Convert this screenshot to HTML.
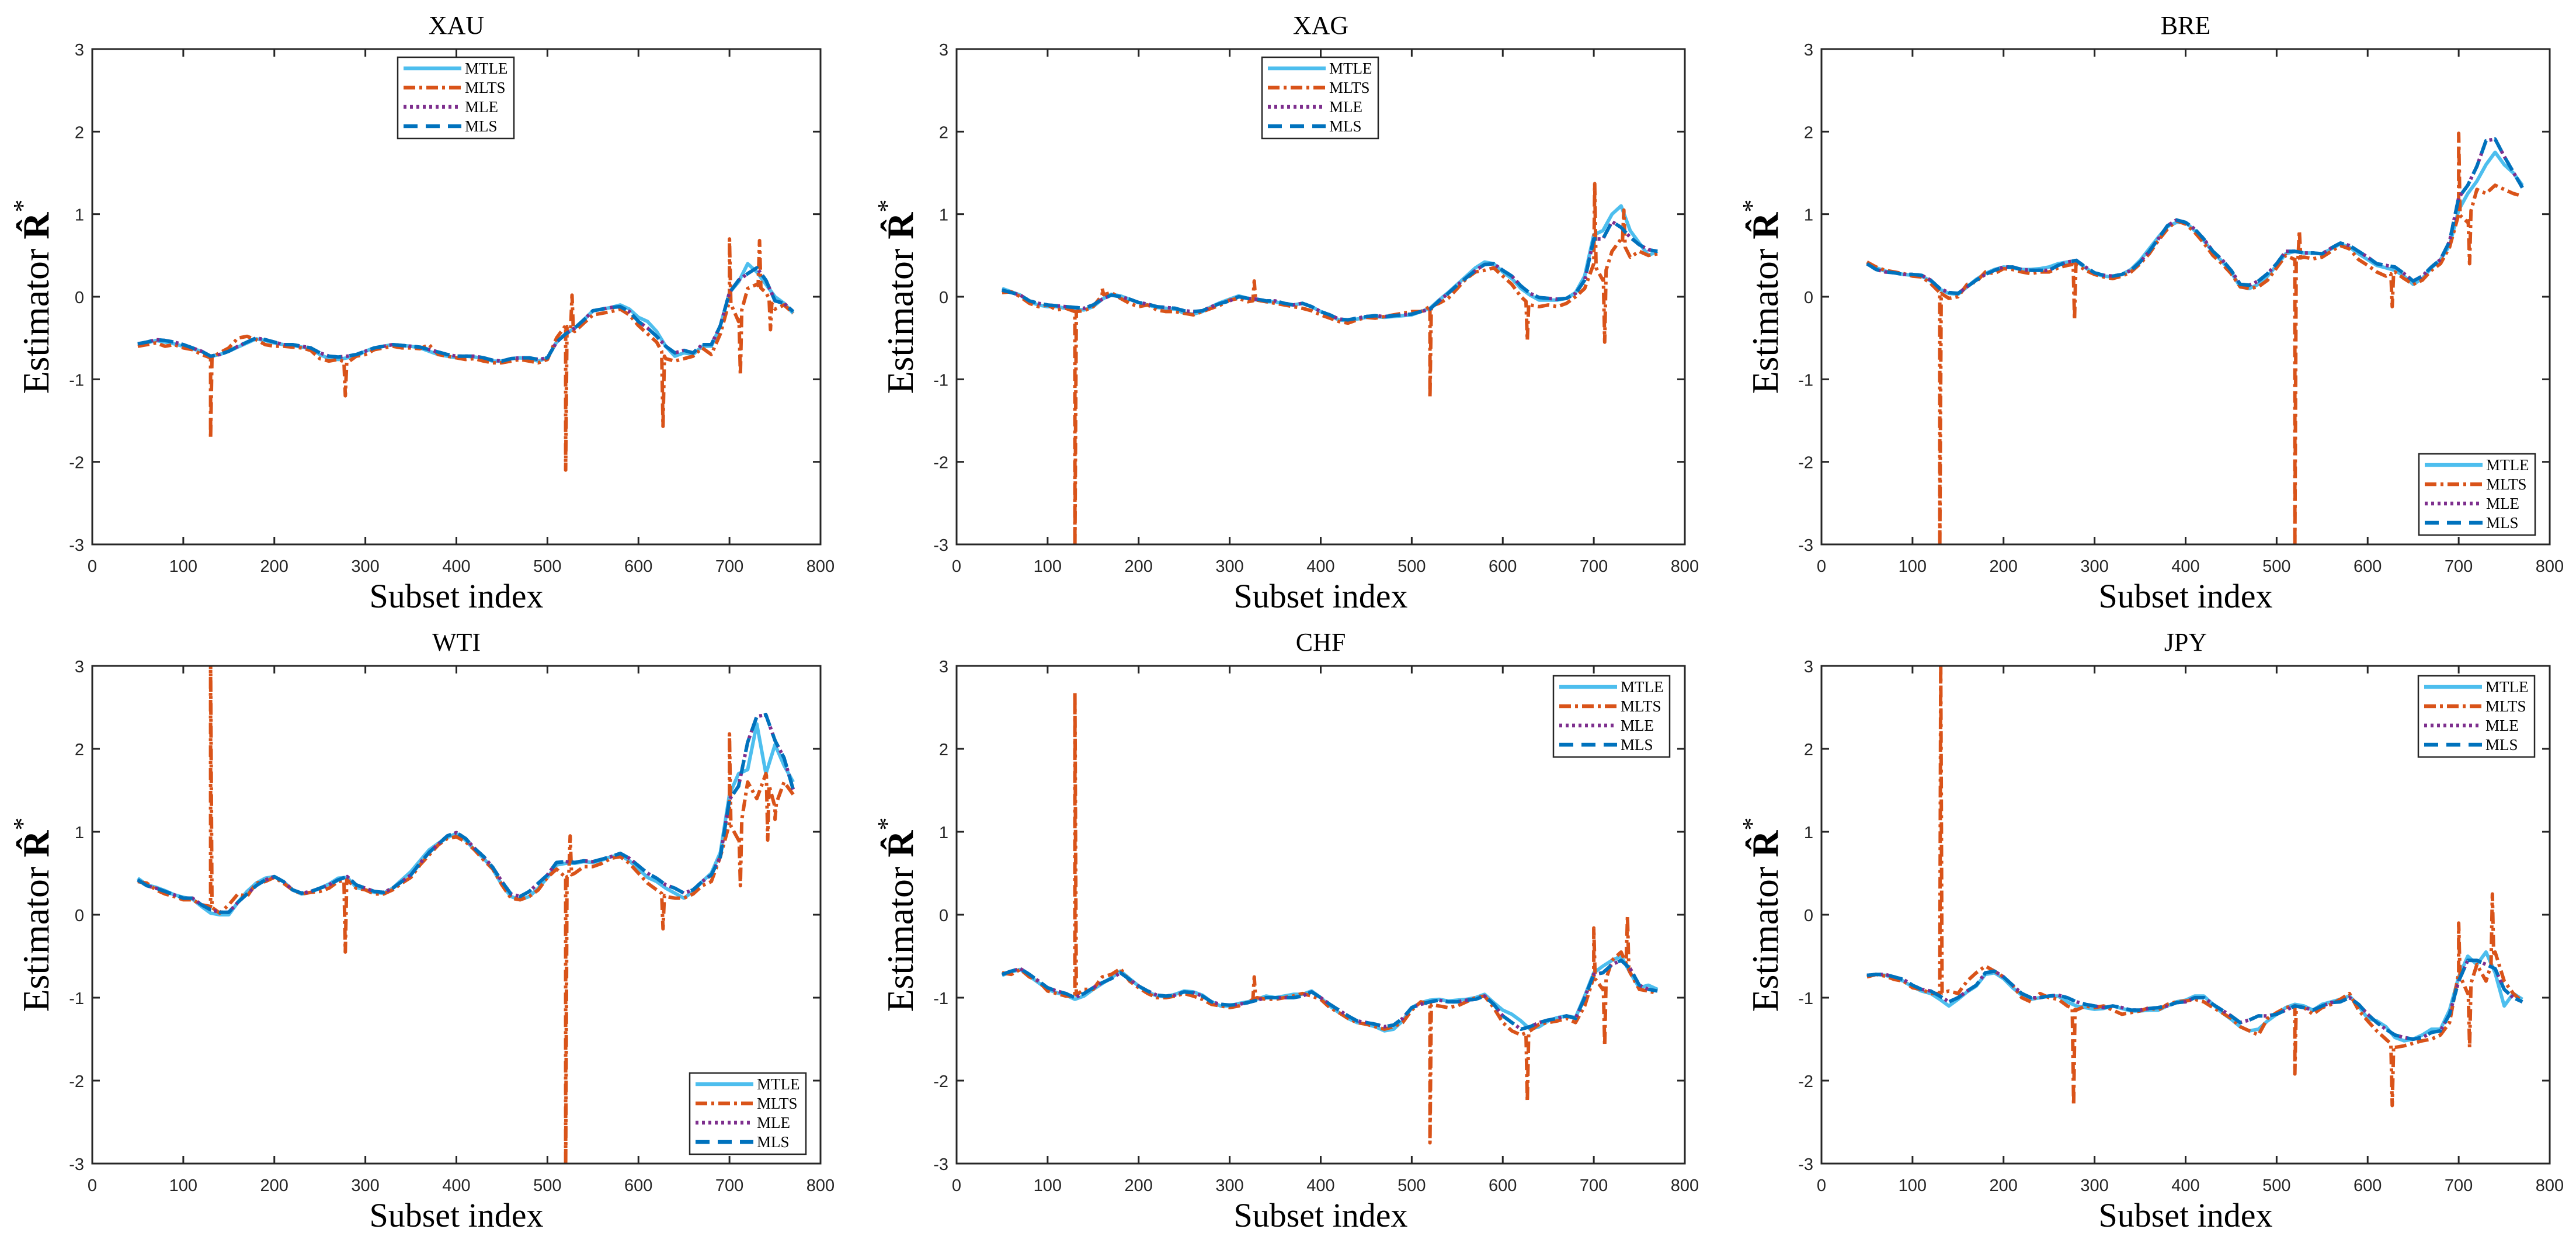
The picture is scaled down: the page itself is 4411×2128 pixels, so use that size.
<!DOCTYPE html>
<html><head><meta charset="utf-8">
<style>
html,body{margin:0;padding:0;background:#fff;}
svg{display:block;}
</style></head>
<body>
<svg id="fig" width="4411" height="2128" viewBox="0 0 4411 2128" xmlns="http://www.w3.org/2000/svg"></svg>
<script>
const subsetIdx = [50,60,70,80,90,100,110,120,130,140,150,160,170,180,190,200,210,220,230,240,250,260,270,280,290,300,310,320,330,340,350,360,370,380,390,400,410,420,430,440,450,460,470,480,490,500,510,520,530,540,550,560,570,580,590,600,610,620,630,640,650,660,670,680,690,700,710,720,730,740,750,760,770];
const xTicks = [0,100,200,300,400,500,600,700,800];
const yTicks = [-3,-2,-1,0,1,2,3];
const seriesNames = ["MTLE","MLTS","MLE","MLS"];

// XAU
const xauMLS = [-0.57,-0.55,-0.52,-0.53,-0.55,-0.58,-0.62,-0.66,-0.72,-0.70,-0.66,-0.60,-0.55,-0.50,-0.52,-0.55,-0.58,-0.58,-0.60,-0.62,-0.68,-0.72,-0.73,-0.72,-0.70,-0.66,-0.62,-0.60,-0.58,-0.59,-0.60,-0.61,-0.64,-0.67,-0.70,-0.72,-0.72,-0.72,-0.74,-0.77,-0.78,-0.75,-0.74,-0.74,-0.76,-0.74,-0.55,-0.45,-0.38,-0.28,-0.17,-0.15,-0.13,-0.12,-0.18,-0.30,-0.38,-0.48,-0.60,-0.68,-0.65,-0.68,-0.58,-0.58,-0.35,0.05,0.20,0.28,0.35,0.20,-0.05,-0.08,-0.18];
const xauMLE = [-0.57,-0.55,-0.52,-0.53,-0.55,-0.58,-0.62,-0.66,-0.72,-0.70,-0.66,-0.60,-0.55,-0.50,-0.52,-0.55,-0.58,-0.58,-0.60,-0.62,-0.68,-0.72,-0.73,-0.72,-0.70,-0.66,-0.62,-0.60,-0.58,-0.59,-0.60,-0.61,-0.64,-0.67,-0.70,-0.72,-0.72,-0.72,-0.74,-0.77,-0.78,-0.75,-0.74,-0.74,-0.76,-0.74,-0.55,-0.45,-0.38,-0.28,-0.17,-0.15,-0.13,-0.12,-0.18,-0.30,-0.38,-0.48,-0.60,-0.68,-0.65,-0.68,-0.58,-0.58,-0.35,0.05,0.20,0.28,0.35,0.20,-0.05,-0.08,-0.18];
const xauMTLE = [-0.58,-0.56,-0.53,-0.55,-0.57,-0.60,-0.63,-0.66,-0.72,-0.70,-0.66,-0.61,-0.56,-0.51,-0.53,-0.56,-0.58,-0.59,-0.61,-0.63,-0.70,-0.75,-0.76,-0.74,-0.72,-0.66,-0.62,-0.60,-0.58,-0.59,-0.60,-0.62,-0.66,-0.70,-0.72,-0.74,-0.72,-0.73,-0.75,-0.78,-0.78,-0.75,-0.74,-0.75,-0.78,-0.74,-0.55,-0.45,-0.38,-0.28,-0.17,-0.15,-0.13,-0.10,-0.15,-0.25,-0.30,-0.42,-0.60,-0.72,-0.68,-0.70,-0.60,-0.60,-0.35,0.05,0.18,0.40,0.30,0.15,0.00,-0.08,-0.20];
const xauMLTS = [-0.60,-0.58,-0.56,-0.60,-0.58,-0.62,-0.64,-0.70,-0.74,-0.68,-0.62,-0.50,-0.48,-0.52,-0.58,-0.60,-0.60,-0.61,-0.62,-0.65,-0.75,-0.78,-0.76,-0.80,-0.72,-0.70,-0.64,-0.62,-0.60,-0.62,-0.62,-0.63,-0.58,-0.70,-0.72,-0.74,-0.76,-0.75,-0.78,-0.80,-0.80,-0.78,-0.76,-0.78,-0.80,-0.76,-0.50,-0.35,-0.42,-0.32,-0.22,-0.20,-0.18,-0.15,-0.22,-0.35,-0.45,-0.55,-0.75,-0.78,-0.75,-0.72,-0.62,-0.70,-0.45,-0.05,-0.30,0.10,0.15,0.05,-0.15,-0.10,-0.20];
const xauSpikeX = [130,278,520,527,627,700,712,733,745];
const xauSpikeY = [-1.72,-1.20,-2.10,0.02,-1.57,0.70,-0.95,0.68,-0.40];

// XAG
const xagMLS = [0.08,0.05,0.02,-0.05,-0.08,-0.10,-0.11,-0.12,-0.13,-0.14,-0.10,-0.03,0.02,0.00,-0.03,-0.07,-0.09,-0.12,-0.13,-0.14,-0.17,-0.18,-0.17,-0.12,-0.08,-0.05,0.00,-0.02,-0.03,-0.05,-0.05,-0.08,-0.10,-0.08,-0.12,-0.18,-0.22,-0.27,-0.28,-0.26,-0.24,-0.23,-0.24,-0.23,-0.22,-0.21,-0.18,-0.15,-0.05,0.04,0.14,0.23,0.32,0.39,0.40,0.32,0.25,0.13,0.04,-0.01,-0.02,-0.03,-0.02,0.04,0.20,0.70,0.70,0.91,0.84,0.72,0.63,0.57,0.55];
const xagMLE = [0.08,0.05,0.02,-0.05,-0.08,-0.10,-0.11,-0.12,-0.13,-0.14,-0.10,-0.03,0.02,0.00,-0.03,-0.07,-0.09,-0.12,-0.13,-0.14,-0.17,-0.18,-0.17,-0.12,-0.08,-0.05,0.00,-0.02,-0.03,-0.05,-0.05,-0.08,-0.10,-0.08,-0.12,-0.18,-0.22,-0.27,-0.28,-0.26,-0.24,-0.23,-0.24,-0.23,-0.22,-0.21,-0.18,-0.15,-0.05,0.04,0.14,0.23,0.32,0.39,0.40,0.32,0.25,0.13,0.04,-0.01,-0.02,-0.03,-0.02,0.04,0.20,0.70,0.70,0.91,0.84,0.72,0.63,0.57,0.55];
const xagMTLE = [0.10,0.06,0.02,-0.06,-0.10,-0.12,-0.12,-0.14,-0.15,-0.16,-0.12,-0.03,0.03,0.01,-0.03,-0.07,-0.10,-0.13,-0.14,-0.15,-0.20,-0.21,-0.18,-0.12,-0.07,-0.03,0.01,-0.02,-0.04,-0.06,-0.06,-0.09,-0.10,-0.08,-0.12,-0.18,-0.23,-0.28,-0.29,-0.27,-0.25,-0.24,-0.25,-0.24,-0.23,-0.22,-0.18,-0.14,-0.04,0.05,0.15,0.25,0.35,0.42,0.40,0.30,0.22,0.10,0.02,-0.04,-0.04,-0.04,-0.02,0.05,0.25,0.75,0.80,1.00,1.10,0.80,0.65,0.50,0.55];
const xagMLTS = [0.05,0.06,0.00,-0.08,-0.12,-0.10,-0.16,-0.14,-0.18,-0.17,-0.12,0.02,0.05,-0.02,-0.08,-0.12,-0.10,-0.16,-0.18,-0.18,-0.20,-0.22,-0.18,-0.14,-0.10,-0.04,-0.02,-0.06,-0.04,-0.06,-0.08,-0.10,-0.12,-0.14,-0.17,-0.22,-0.26,-0.30,-0.32,-0.28,-0.25,-0.26,-0.24,-0.22,-0.20,-0.18,-0.18,-0.12,-0.08,-0.02,0.10,0.22,0.30,0.32,0.35,0.25,0.15,0.00,-0.10,-0.12,-0.10,-0.12,-0.08,0.00,0.10,0.40,0.20,0.55,0.70,0.48,0.55,0.50,0.52];
const xagSpikeX = [130,160,327,520,627,701,712,733];
const xagSpikeY = [-3.05,0.10,0.19,-1.22,-0.53,1.37,-0.55,1.05];

// BRE
const breMLS = [0.40,0.33,0.30,0.29,0.27,0.27,0.26,0.20,0.10,0.05,0.04,0.12,0.20,0.27,0.32,0.36,0.36,0.33,0.32,0.32,0.32,0.38,0.42,0.44,0.36,0.29,0.26,0.25,0.27,0.32,0.42,0.55,0.70,0.86,0.93,0.90,0.82,0.70,0.55,0.45,0.32,0.15,0.14,0.19,0.28,0.40,0.55,0.55,0.53,0.53,0.52,0.59,0.65,0.62,0.55,0.48,0.40,0.38,0.36,0.28,0.19,0.25,0.36,0.45,0.67,1.20,1.35,1.58,1.89,1.91,1.70,1.51,1.32];
const breMLE = [0.40,0.33,0.30,0.29,0.27,0.27,0.26,0.20,0.10,0.05,0.04,0.12,0.20,0.27,0.32,0.36,0.36,0.33,0.32,0.32,0.32,0.38,0.42,0.44,0.36,0.29,0.26,0.25,0.27,0.32,0.42,0.55,0.70,0.86,0.93,0.90,0.82,0.70,0.55,0.45,0.32,0.15,0.14,0.19,0.28,0.40,0.55,0.55,0.53,0.53,0.52,0.59,0.65,0.62,0.55,0.48,0.40,0.38,0.36,0.28,0.19,0.25,0.36,0.45,0.67,1.20,1.35,1.58,1.89,1.91,1.70,1.51,1.32];
const breMTLE = [0.42,0.35,0.31,0.29,0.27,0.26,0.25,0.19,0.09,0.04,0.03,0.12,0.21,0.28,0.33,0.36,0.35,0.33,0.33,0.34,0.36,0.40,0.42,0.43,0.35,0.28,0.25,0.24,0.27,0.33,0.44,0.58,0.72,0.85,0.90,0.90,0.80,0.68,0.54,0.43,0.30,0.12,0.10,0.15,0.25,0.38,0.52,0.55,0.53,0.53,0.52,0.58,0.64,0.60,0.52,0.45,0.38,0.35,0.32,0.25,0.15,0.22,0.35,0.45,0.62,1.05,1.25,1.40,1.60,1.75,1.60,1.50,1.35];
const breMLTS = [0.42,0.36,0.32,0.30,0.28,0.25,0.24,0.16,0.05,-0.02,0.00,0.15,0.18,0.30,0.28,0.34,0.33,0.30,0.28,0.30,0.30,0.35,0.38,0.40,0.32,0.27,0.24,0.22,0.25,0.30,0.40,0.52,0.68,0.82,0.92,0.88,0.78,0.65,0.50,0.40,0.28,0.12,0.10,0.12,0.20,0.35,0.50,0.45,0.48,0.46,0.48,0.55,0.62,0.58,0.45,0.38,0.30,0.25,0.30,0.22,0.15,0.20,0.32,0.40,0.60,1.00,0.90,1.30,1.25,1.35,1.30,1.25,1.22];
const breSpikeX = [130,278,520,525,627,700,712];
const breSpikeY = [-3.05,-0.28,-3.05,0.80,-0.12,1.98,0.40];

// WTI
const wtiMLS = [0.42,0.35,0.32,0.28,0.24,0.20,0.20,0.12,0.06,0.03,0.03,0.15,0.25,0.35,0.42,0.46,0.40,0.30,0.26,0.28,0.32,0.36,0.42,0.46,0.36,0.32,0.28,0.27,0.32,0.40,0.48,0.62,0.75,0.85,0.95,0.99,0.92,0.80,0.70,0.57,0.40,0.25,0.22,0.28,0.38,0.48,0.63,0.64,0.63,0.65,0.64,0.67,0.70,0.74,0.68,0.59,0.50,0.44,0.36,0.32,0.26,0.30,0.40,0.48,0.70,1.39,1.55,2.08,2.39,2.41,2.10,1.89,1.51];
const wtiMLE = [0.42,0.35,0.32,0.28,0.24,0.20,0.20,0.12,0.06,0.03,0.03,0.15,0.25,0.35,0.42,0.46,0.40,0.30,0.26,0.28,0.32,0.36,0.42,0.46,0.36,0.32,0.28,0.27,0.32,0.40,0.48,0.62,0.75,0.85,0.95,0.99,0.92,0.80,0.70,0.57,0.40,0.25,0.22,0.28,0.38,0.48,0.63,0.64,0.63,0.65,0.64,0.67,0.70,0.74,0.68,0.59,0.50,0.44,0.36,0.32,0.26,0.30,0.40,0.48,0.70,1.39,1.55,2.08,2.39,2.41,2.10,1.89,1.51];
const wtiMTLE = [0.44,0.36,0.33,0.29,0.24,0.21,0.19,0.10,0.02,0.00,0.00,0.15,0.28,0.38,0.44,0.46,0.40,0.30,0.25,0.27,0.32,0.37,0.44,0.45,0.33,0.30,0.27,0.26,0.32,0.42,0.52,0.65,0.78,0.86,0.93,0.98,0.90,0.78,0.68,0.55,0.36,0.22,0.18,0.22,0.32,0.45,0.60,0.62,0.62,0.64,0.63,0.66,0.70,0.72,0.65,0.55,0.45,0.40,0.32,0.26,0.20,0.28,0.40,0.50,0.75,1.45,1.70,1.75,2.30,1.70,2.05,1.80,1.60];
const wtiMLTS = [0.40,0.38,0.30,0.25,0.22,0.18,0.18,0.12,0.10,0.02,0.12,0.25,0.22,0.38,0.40,0.45,0.38,0.30,0.25,0.27,0.28,0.32,0.40,0.42,0.32,0.30,0.25,0.25,0.30,0.38,0.45,0.60,0.72,0.84,0.92,0.94,0.88,0.78,0.66,0.55,0.36,0.20,0.18,0.22,0.30,0.45,0.55,0.45,0.50,0.58,0.58,0.62,0.68,0.70,0.62,0.50,0.38,0.30,0.22,0.20,0.20,0.25,0.35,0.40,0.70,1.10,0.90,1.60,1.40,1.70,1.30,1.60,1.45];
const wtiSpikeX = [130,278,520,525,627,700,712,742,750];
const wtiSpikeY = [3.05,-0.45,-3.05,0.95,-0.17,2.18,0.35,0.90,1.15];

// CHF
const chfMLS = [-0.72,-0.68,-0.65,-0.72,-0.80,-0.88,-0.92,-0.95,-1.00,-0.95,-0.88,-0.82,-0.77,-0.70,-0.78,-0.86,-0.92,-0.97,-0.98,-0.97,-0.93,-0.94,-0.98,-1.05,-1.08,-1.09,-1.08,-1.06,-1.03,-1.00,-1.00,-1.00,-1.00,-0.98,-0.93,-1.00,-1.08,-1.15,-1.22,-1.28,-1.30,-1.32,-1.35,-1.33,-1.25,-1.12,-1.08,-1.05,-1.03,-1.05,-1.05,-1.03,-1.02,-0.98,-1.08,-1.22,-1.30,-1.38,-1.35,-1.30,-1.27,-1.25,-1.22,-1.25,-1.00,-0.72,-0.70,-0.60,-0.55,-0.65,-0.85,-0.90,-0.92];
const chfMLE = [-0.72,-0.68,-0.65,-0.72,-0.80,-0.88,-0.92,-0.95,-1.00,-0.95,-0.88,-0.82,-0.77,-0.70,-0.78,-0.86,-0.92,-0.97,-0.98,-0.97,-0.93,-0.94,-0.98,-1.05,-1.08,-1.09,-1.08,-1.06,-1.03,-1.00,-1.00,-1.00,-1.00,-0.98,-0.93,-1.00,-1.08,-1.15,-1.22,-1.28,-1.30,-1.32,-1.35,-1.33,-1.25,-1.12,-1.08,-1.05,-1.03,-1.05,-1.05,-1.03,-1.02,-0.98,-1.08,-1.22,-1.30,-1.38,-1.35,-1.30,-1.27,-1.25,-1.22,-1.25,-1.00,-0.72,-0.70,-0.60,-0.55,-0.65,-0.85,-0.90,-0.92];
const chfMTLE = [-0.73,-0.69,-0.66,-0.74,-0.82,-0.90,-0.94,-0.97,-1.02,-0.98,-0.90,-0.83,-0.76,-0.68,-0.77,-0.86,-0.93,-0.98,-0.99,-0.96,-0.92,-0.93,-0.97,-1.05,-1.10,-1.10,-1.07,-1.05,-1.02,-0.98,-1.00,-0.98,-0.96,-0.96,-0.92,-1.00,-1.10,-1.18,-1.25,-1.30,-1.32,-1.35,-1.40,-1.38,-1.28,-1.12,-1.06,-1.03,-1.02,-1.04,-1.03,-1.02,-1.00,-0.96,-1.06,-1.15,-1.20,-1.28,-1.38,-1.35,-1.28,-1.24,-1.22,-1.24,-0.98,-0.70,-0.62,-0.55,-0.50,-0.70,-0.88,-0.85,-0.90];
const chfMLTS = [-0.70,-0.72,-0.66,-0.75,-0.80,-0.92,-0.95,-0.98,-0.98,-0.90,-0.90,-0.75,-0.72,-0.65,-0.80,-0.88,-0.95,-1.00,-1.00,-0.98,-0.95,-0.98,-1.02,-1.08,-1.10,-1.12,-1.10,-1.05,-1.00,-1.02,-1.02,-1.00,-0.98,-0.95,-0.98,-1.02,-1.12,-1.18,-1.25,-1.30,-1.32,-1.35,-1.38,-1.35,-1.30,-1.15,-1.05,-1.08,-1.10,-1.12,-1.10,-1.05,-1.00,-0.98,-1.12,-1.30,-1.40,-1.45,-1.40,-1.32,-1.30,-1.28,-1.25,-1.30,-1.10,-0.75,-0.90,-0.55,-0.45,-0.70,-0.90,-0.92,-0.95];
const chfSpikeX = [130,327,520,627,700,712,737];
const chfSpikeY = [2.68,-0.75,-2.75,-2.25,-0.16,-1.58,-0.02];

// JPY
const jpyMLS = [-0.73,-0.72,-0.72,-0.75,-0.78,-0.85,-0.90,-0.92,-0.98,-1.05,-1.00,-0.92,-0.85,-0.70,-0.68,-0.75,-0.85,-0.95,-1.00,-1.00,-0.98,-0.97,-1.00,-1.05,-1.08,-1.10,-1.12,-1.10,-1.12,-1.15,-1.15,-1.13,-1.12,-1.10,-1.06,-1.05,-1.00,-1.00,-1.08,-1.15,-1.22,-1.30,-1.27,-1.22,-1.22,-1.20,-1.15,-1.10,-1.12,-1.15,-1.10,-1.06,-1.05,-1.00,-1.08,-1.20,-1.30,-1.38,-1.45,-1.48,-1.50,-1.48,-1.42,-1.40,-1.20,-0.80,-0.55,-0.55,-0.60,-0.65,-0.90,-1.00,-1.05];
const jpyMLE = [-0.73,-0.72,-0.72,-0.75,-0.78,-0.85,-0.90,-0.92,-0.98,-1.05,-1.00,-0.92,-0.85,-0.70,-0.68,-0.75,-0.85,-0.95,-1.00,-1.00,-0.98,-0.97,-1.00,-1.05,-1.08,-1.10,-1.12,-1.10,-1.12,-1.15,-1.15,-1.13,-1.12,-1.10,-1.06,-1.05,-1.00,-1.00,-1.08,-1.15,-1.22,-1.30,-1.27,-1.22,-1.22,-1.20,-1.15,-1.10,-1.12,-1.15,-1.10,-1.06,-1.05,-1.00,-1.08,-1.20,-1.30,-1.38,-1.45,-1.48,-1.50,-1.48,-1.42,-1.40,-1.20,-0.80,-0.55,-0.55,-0.60,-0.65,-0.90,-1.00,-1.05];
const jpyMTLE = [-0.74,-0.72,-0.73,-0.76,-0.80,-0.87,-0.92,-0.95,-1.02,-1.10,-1.02,-0.93,-0.86,-0.72,-0.70,-0.77,-0.88,-0.97,-1.02,-1.00,-0.98,-0.98,-1.05,-1.10,-1.12,-1.14,-1.13,-1.10,-1.13,-1.16,-1.16,-1.15,-1.15,-1.10,-1.05,-1.03,-0.98,-0.98,-1.08,-1.18,-1.26,-1.35,-1.40,-1.38,-1.28,-1.20,-1.12,-1.08,-1.10,-1.15,-1.08,-1.05,-1.02,-0.98,-1.10,-1.25,-1.28,-1.35,-1.48,-1.52,-1.50,-1.45,-1.38,-1.38,-1.15,-0.75,-0.50,-0.60,-0.45,-0.70,-1.10,-0.95,-1.02];
const jpyMLTS = [-0.75,-0.72,-0.74,-0.78,-0.80,-0.88,-0.90,-0.95,-0.95,-0.92,-0.95,-0.80,-0.70,-0.62,-0.68,-0.75,-0.85,-1.00,-1.05,-0.95,-1.00,-1.02,-1.10,-1.15,-1.10,-1.12,-1.10,-1.15,-1.20,-1.18,-1.16,-1.12,-1.15,-1.08,-1.05,-1.04,-1.02,-1.05,-1.12,-1.18,-1.25,-1.35,-1.40,-1.45,-1.25,-1.18,-1.12,-1.10,-1.12,-1.20,-1.12,-1.08,-1.02,-0.95,-1.15,-1.28,-1.40,-1.50,-1.60,-1.58,-1.55,-1.52,-1.50,-1.45,-1.30,-0.70,-0.95,-0.60,-0.80,-0.45,-0.80,-0.95,-1.05];
const jpySpikeX = [131,277,520,627,700,712,737];
const jpySpikeY = [3.05,-2.30,-1.92,-2.30,-0.10,-1.60,0.25];

const NS = "http://www.w3.org/2000/svg";
const svg = document.getElementById("fig");
const AX = "#262626";
const colors = {MTLE:"#4DBEEE", MLTS:"#D95319", MLE:"#7E2F8E", MLS:"#0072BD"};
const dashes = {MTLE:"none", MLTS:"20 7 5 7", MLE:"5 6", MLS:"24 14"};

function mk(tag, attrs, parent){
  const e = document.createElementNS(NS, tag);
  for (const k in attrs) e.setAttribute(k, attrs[k]);
  (parent||svg).appendChild(e);
  return e;
}

const panels = [
  {id:"xau", title:"XAU", left:158, top:84, h:848, leg:"top-center", mtle:xauMTLE, mlts:xauMLTS, mle:xauMLE, mls:xauMLS, sx:xauSpikeX, sy:xauSpikeY},
  {id:"xag", title:"XAG", left:1638, top:84, h:848, leg:"top-center", mtle:xagMTLE, mlts:xagMLTS, mle:xagMLE, mls:xagMLS, sx:xagSpikeX, sy:xagSpikeY},
  {id:"bre", title:"BRE", left:3119, top:84, h:848, leg:"bottom-right", mtle:breMTLE, mlts:breMLTS, mle:breMLE, mls:breMLS, sx:breSpikeX, sy:breSpikeY},
  {id:"wti", title:"WTI", left:158, top:1140, h:852, leg:"bottom-right", mtle:wtiMTLE, mlts:wtiMLTS, mle:wtiMLE, mls:wtiMLS, sx:wtiSpikeX, sy:wtiSpikeY},
  {id:"chf", title:"CHF", left:1638, top:1140, h:852, leg:"top-right", mtle:chfMTLE, mlts:chfMLTS, mle:chfMLE, mls:chfMLS, sx:chfSpikeX, sy:chfSpikeY},
  {id:"jpy", title:"JPY", left:3119, top:1140, h:852, leg:"top-right", mtle:jpyMTLE, mlts:jpyMLTS, mle:jpyMLE, mls:jpyMLS, sx:jpySpikeX, sy:jpySpikeY}
];
const W = 1247;

panels.forEach(p => {
  const g = mk("g", {});
  
  
  const xS = v => p.left + v / 800 * W;
  const yS = v => p.top + (3 - v) / 6 * p.h;
  const bottom = p.top + p.h, right = p.left + W;

  const defs = mk("defs", {}, g);
  const cp = mk("clipPath", {id:"clip-" + p.id}, defs);
  mk("rect", {x:p.left, y:p.top, width:W, height:p.h}, cp);

  const data = {MTLE:p.mtle, MLTS:p.mlts, MLE:p.mle, MLS:p.mls};
  const plot = mk("g", {"clip-path":"url(#clip-" + p.id + ")"}, g);
  seriesNames.forEach(name => {
    const vals = data[name];
    let pts = subsetIdx.map((x, i) => [x, vals[i]]);
    if (name === "MLTS") {
      const interp = x => { for (let i = 0; i < subsetIdx.length - 1; i++) { if (x >= subsetIdx[i] && x <= subsetIdx[i+1]) { const t = (x - subsetIdx[i]) / (subsetIdx[i+1] - subsetIdx[i]); return vals[i] + t * (vals[i+1] - vals[i]); } } return vals[vals.length-1]; };
      p.sx.forEach((sx, k) => { pts.push([sx - 1.5, interp(sx - 1.5)]); pts.push([sx, p.sy[k]]); pts.push([sx + 1.5, interp(sx + 1.5)]); });
      pts.sort((a, b) => a[0] - b[0]);
    }
    const d = pts.map((q, i) => (i ? "L" : "M") + xS(q[0]).toFixed(1) + " " + yS(q[1]).toFixed(1)).join(" ");
    const path = mk("path", {d:d, fill:"none", stroke:colors[name], "stroke-width":6, "stroke-dasharray":dashes[name], "stroke-linejoin":"round"}, plot);
    
    
  });

  const box = mk("rect", {x:p.left, y:p.top, width:W, height:p.h, fill:"none", stroke:AX, "stroke-width":3}, g);
  
  

  xTicks.forEach(t => {
    const x = xS(t);
    mk("line", {x1:x, y1:bottom, x2:x, y2:bottom - 13, stroke:AX, "stroke-width":3}, g);
    mk("line", {x1:x, y1:p.top, x2:x, y2:p.top + 13, stroke:AX, "stroke-width":3}, g);
    const tx = mk("text", {x:x, y:bottom + 47, "text-anchor":"middle", "font-family":"Liberation Sans, sans-serif", "font-size":29, fill:AX}, g);
    tx.textContent = t;
    
    
  });
  yTicks.forEach(t => {
    const y = yS(t);
    mk("line", {x1:p.left, y1:y, x2:p.left + 13, y2:y, stroke:AX, "stroke-width":3}, g);
    mk("line", {x1:right, y1:y, x2:right - 13, y2:y, stroke:AX, "stroke-width":3}, g);
    const tx = mk("text", {x:p.left - 14, y:y + 11, "text-anchor":"end", "font-family":"Liberation Sans, sans-serif", "font-size":29, fill:AX}, g);
    tx.textContent = t;
    
    
  });

  const title = mk("text", {x:p.left + W/2, y:p.top - 26, "text-anchor":"middle", "font-family":"Liberation Serif, serif", "font-size":44, fill:"#000"}, g);
  title.textContent = p.title;
  
  

  const xl = mk("text", {x:p.left + W/2, y:bottom + 108, "text-anchor":"middle", "font-family":"Liberation Serif, serif", "font-size":58, fill:"#000"}, g);
  xl.textContent = "Subset index";
  
  

  const cy = p.top + p.h/2, cx = p.left - 75;
  const yl = mk("text", {x:cx, y:cy, transform:"rotate(-90 " + cx + " " + cy + ")", "text-anchor":"middle", "font-family":"Liberation Serif, serif", "font-size":64, fill:"#000"}, g);
  
  
  const t1 = mk("tspan", {}, yl); t1.textContent = "Estimator ";
  const t2 = mk("tspan", {"font-weight":"bold"}, yl); t2.textContent = "R\u0302";
  const t3 = mk("tspan", {dy:-30, "font-size":44}, yl); t3.textContent = "*";

  // legend
  const lw = 199, lh = 139;
  let lx, ly;
  if (p.leg === "top-center") { lx = p.left + 523; ly = p.top + 14; }
  else if (p.leg === "top-right") { lx = right - 26 - lw; ly = p.top + 17; }
  else { lx = right - 25 - lw; ly = bottom - 16 - lh; }
  const lg = mk("g", {}, g);
  
  
  mk("rect", {x:lx, y:ly, width:lw, height:lh, fill:"#fff", stroke:AX, "stroke-width":2.5}, lg);
  seriesNames.forEach((name, i) => {
    const yy = ly + 19 + i * 33;
    const ent = mk("g", {}, lg);
    
    
    mk("line", {x1:lx + 10, y1:yy, x2:lx + 109, y2:yy, stroke:colors[name], "stroke-width":6.5, "stroke-dasharray":dashes[name]}, ent);
    const lt = mk("text", {x:lx + 115, y:yy + 9, "font-family":"Liberation Serif, serif", "font-size":27, fill:"#000"}, ent);
    lt.textContent = name;
  });
});
</script>
</body></html>
